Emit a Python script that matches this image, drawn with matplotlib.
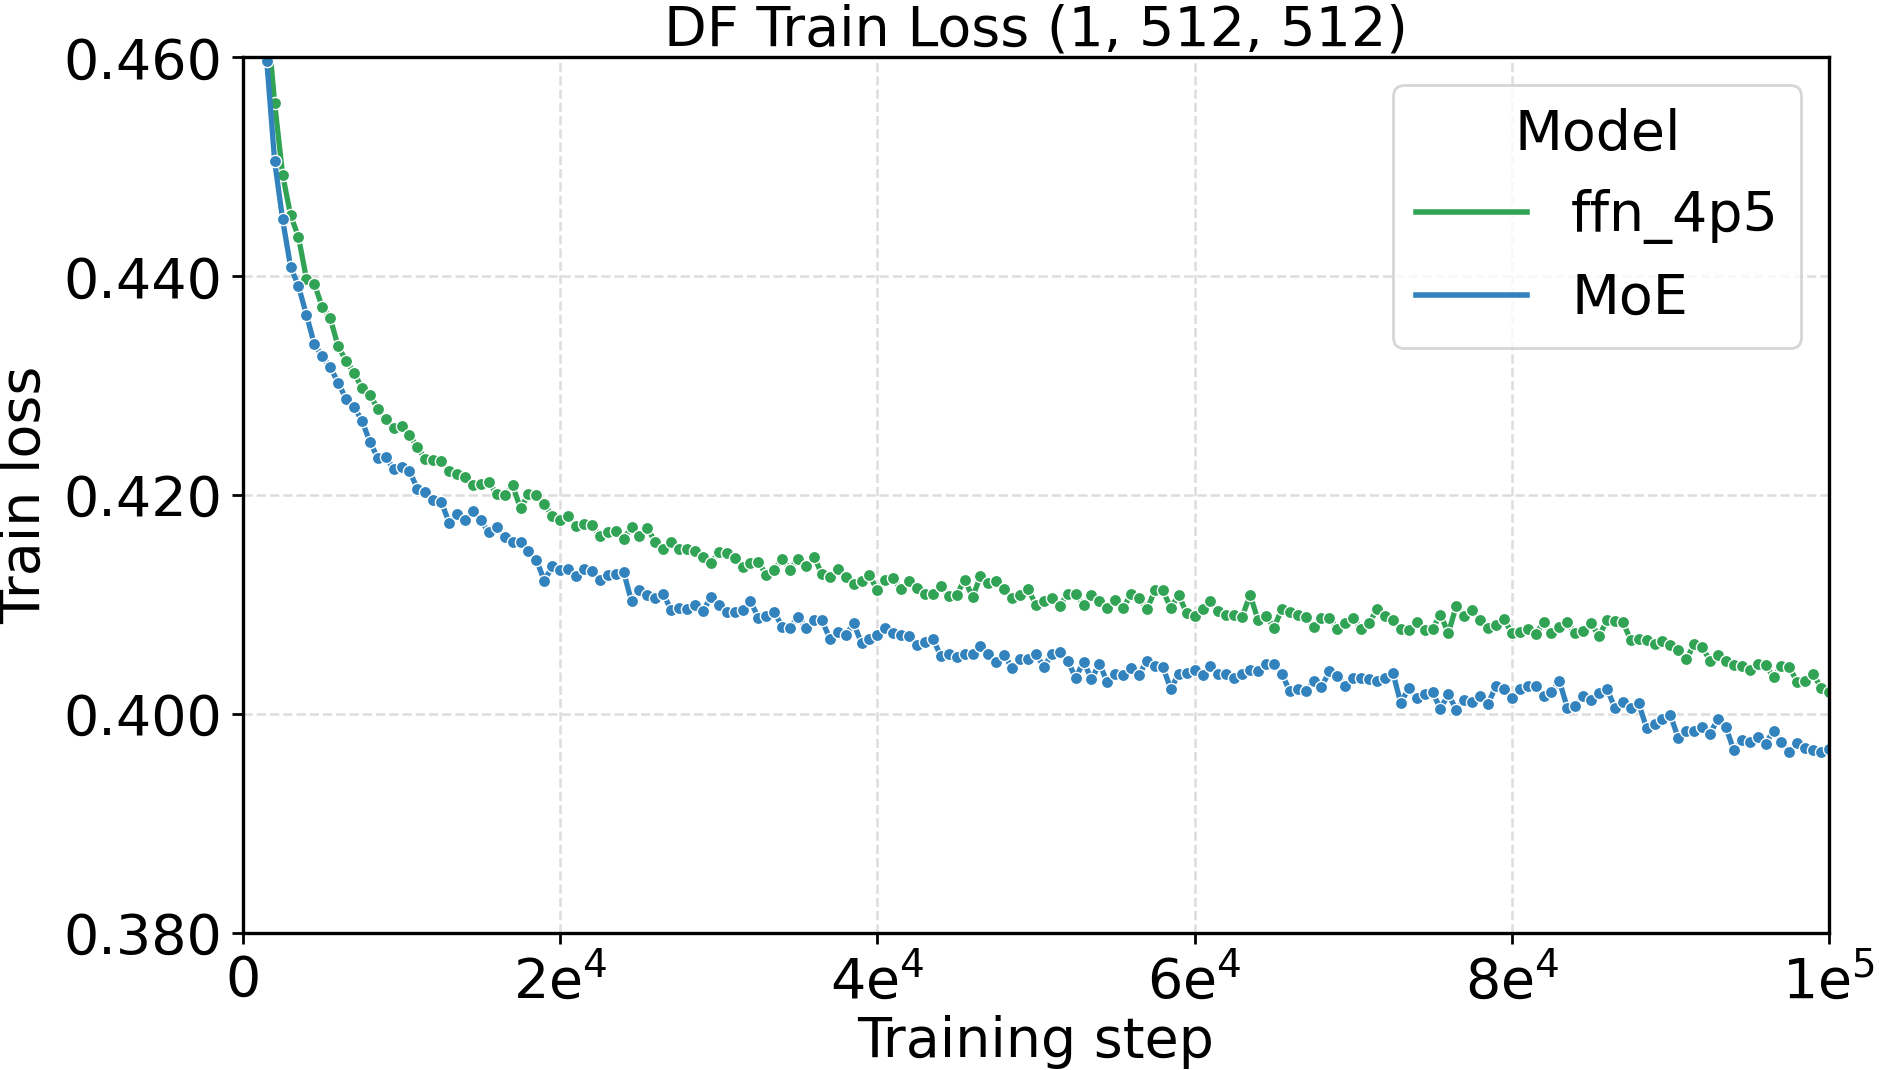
import numpy as np
import matplotlib
matplotlib.use("Agg")
import matplotlib.pyplot as plt
from matplotlib.lines import Line2D

# training steps, logged every 500
steps = np.arange(1000, 100001, 500)

# MoE train loss (first point is above the visible range)
moe_loss = [
    0.4900, 0.4597, 0.4505, 0.4452, 0.4409, 0.4391, 0.4365, 0.4338, 0.4327, 0.4317,
    0.4303, 0.4288, 0.4281, 0.4268, 0.4249, 0.4234, 0.4235, 0.4224, 0.4226, 0.4222,
    0.4206, 0.4203, 0.4196, 0.4194, 0.4175, 0.4183, 0.4177, 0.4186, 0.4177, 0.4166,
    0.4171, 0.4162, 0.4157, 0.4157, 0.4149, 0.4141, 0.4122, 0.4135, 0.4132, 0.4133,
    0.4126, 0.4133, 0.4131, 0.4123, 0.4127, 0.4128, 0.4130, 0.4103, 0.4113, 0.4109,
    0.4106, 0.4110, 0.4095, 0.4097, 0.4096, 0.4100, 0.4094, 0.4107, 0.4100, 0.4093,
    0.4093, 0.4095, 0.4103, 0.4088, 0.4090, 0.4093, 0.4080, 0.4079, 0.4089, 0.4079,
    0.4086, 0.4086, 0.4069, 0.4075, 0.4072, 0.4083, 0.4065, 0.4069, 0.4072, 0.4079,
    0.4074, 0.4072, 0.4071, 0.4063, 0.4066, 0.4069, 0.4053, 0.4055, 0.4052, 0.4055,
    0.4055, 0.4062, 0.4055, 0.4048, 0.4054, 0.4042, 0.4050, 0.4050, 0.4055, 0.4043,
    0.4055, 0.4057, 0.4049, 0.4033, 0.4048, 0.4032, 0.4046, 0.4029, 0.4037, 0.4036,
    0.4042, 0.4036, 0.4049, 0.4044, 0.4043, 0.4023, 0.4037, 0.4038, 0.4040, 0.4036,
    0.4044, 0.4037, 0.4037, 0.4033, 0.4037, 0.4040, 0.4039, 0.4046, 0.4046, 0.4037,
    0.4021, 0.4023, 0.4021, 0.4030, 0.4025, 0.4039, 0.4035, 0.4026, 0.4033, 0.4033,
    0.4032, 0.4030, 0.4033, 0.4038, 0.4010, 0.4024, 0.4015, 0.4018, 0.4020, 0.4005,
    0.4018, 0.4004, 0.4013, 0.4011, 0.4017, 0.4009, 0.4026, 0.4023, 0.4015, 0.4023,
    0.4026, 0.4026, 0.4017, 0.4020, 0.4030, 0.4006, 0.4007, 0.4017, 0.4013, 0.4019,
    0.4023, 0.4006, 0.4011, 0.4006, 0.4010, 0.3987, 0.3991, 0.3996, 0.3999, 0.3978,
    0.3985, 0.3985, 0.3988, 0.3982, 0.3996, 0.3988, 0.3967, 0.3976, 0.3975, 0.3979,
    0.3973, 0.3985, 0.3975, 0.3965, 0.3974, 0.3969, 0.3967, 0.3965, 0.3968,
]

# ffn_4p5 train loss (first two points above the visible range)
ffn_loss = [
    0.4950, 0.4640, 0.4558, 0.4493, 0.4456, 0.4436, 0.4398, 0.4393, 0.4372, 0.4362,
    0.4336, 0.4323, 0.4312, 0.4298, 0.4292, 0.4279, 0.4270, 0.4261, 0.4263, 0.4255,
    0.4244, 0.4233, 0.4232, 0.4231, 0.4222, 0.4219, 0.4217, 0.4209, 0.4210, 0.4212,
    0.4201, 0.4200, 0.4209, 0.4188, 0.4201, 0.4200, 0.4192, 0.4181, 0.4177, 0.4181,
    0.4172, 0.4174, 0.4173, 0.4163, 0.4166, 0.4167, 0.4160, 0.4171, 0.4163, 0.4170,
    0.4157, 0.4151, 0.4157, 0.4151, 0.4151, 0.4149, 0.4144, 0.4138, 0.4148, 0.4147,
    0.4143, 0.4134, 0.4138, 0.4139, 0.4127, 0.4132, 0.4142, 0.4132, 0.4142, 0.4135,
    0.4144, 0.4128, 0.4125, 0.4133, 0.4125, 0.4119, 0.4122, 0.4127, 0.4113, 0.4123,
    0.4124, 0.4114, 0.4122, 0.4115, 0.4110, 0.4110, 0.4117, 0.4108, 0.4109, 0.4123,
    0.4107, 0.4126, 0.4120, 0.4122, 0.4114, 0.4106, 0.4109, 0.4114, 0.4100, 0.4103,
    0.4106, 0.4099, 0.4110, 0.4110, 0.4100, 0.4109, 0.4103, 0.4097, 0.4104, 0.4097,
    0.4110, 0.4106, 0.4096, 0.4113, 0.4113, 0.4097, 0.4109, 0.4092, 0.4090, 0.4096,
    0.4103, 0.4094, 0.4091, 0.4091, 0.4089, 0.4109, 0.4086, 0.4090, 0.4079, 0.4096,
    0.4093, 0.4091, 0.4089, 0.4080, 0.4088, 0.4088, 0.4078, 0.4083, 0.4088, 0.4078,
    0.4083, 0.4096, 0.4090, 0.4086, 0.4078, 0.4077, 0.4084, 0.4077, 0.4078, 0.4091,
    0.4074, 0.4099, 0.4090, 0.4095, 0.4086, 0.4079, 0.4081, 0.4087, 0.4074, 0.4075,
    0.4078, 0.4073, 0.4084, 0.4074, 0.4080, 0.4084, 0.4074, 0.4076, 0.4083, 0.4071,
    0.4086, 0.4085, 0.4084, 0.4068, 0.4069, 0.4068, 0.4064, 0.4067, 0.4063, 0.4059,
    0.4050, 0.4064, 0.4061, 0.4049, 0.4054, 0.4049, 0.4045, 0.4044, 0.4040, 0.4046,
    0.4045, 0.4034, 0.4044, 0.4043, 0.4029, 0.4030, 0.4037, 0.4024, 0.4020,
]

models = ["ffn_4p5", "MoE"]
colors = ["#31a354", "#3182bd"]

xticks = [0, 20000, 40000, 60000, 80000, 100000]
xticklabels = ["0", "2e$^4$", "4e$^4$", "6e$^4$", "8e$^4$", "1e$^5$"]
yticks = [0.38, 0.40, 0.42, 0.44, 0.46]

plt.rcParams["font.family"] = ["DejaVu Sans"]
plt.rcParams["mathtext.default"] = "regular"

fig = plt.figure(figsize=(9.395, 5.35), dpi=200)
ax = fig.add_axes([0.1293, 0.128, 0.8441, 0.8183])

for name, loss, c in zip(models, [ffn_loss, moe_loss], colors):
    ax.plot(steps, loss, color=c, lw=1.9, marker="o", markersize=4.4,
            markeredgecolor="white", markeredgewidth=0.5, label=name)

ax.set_xlim(0, 100000)
ax.set_ylim(0.38, 0.46)
ax.set_xticks(xticks)
ax.set_xticklabels(xticklabels)
ax.set_yticks(yticks)
ax.set_yticklabels([f"{v:.3f}" for v in yticks])
ax.tick_params(labelsize=20, width=1.0, length=4)

ax.grid(True, color="#dddddd", linestyle="--", lw=0.9)
ax.set_axisbelow(True)
for s in ax.spines.values():
    s.set_linewidth(1.2)
    s.set_color("black")

ax.set_title("DF Train Loss (1, 512, 512)", fontsize=20, pad=4)
ax.set_xlabel("Training step", fontsize=20, labelpad=2)
ax.set_ylabel("Train loss", fontsize=20, labelpad=4)

handles = [Line2D([0], [0], color=c, lw=2.0) for c in colors]
leg = ax.legend(handles, models, title="Model", fontsize=20, title_fontsize=20,
                loc="upper right", frameon=True, fancybox=True)
leg.get_frame().set_edgecolor("#cccccc")
leg.get_frame().set_linewidth(1.0)

fig.savefig("out.png", dpi=200)
